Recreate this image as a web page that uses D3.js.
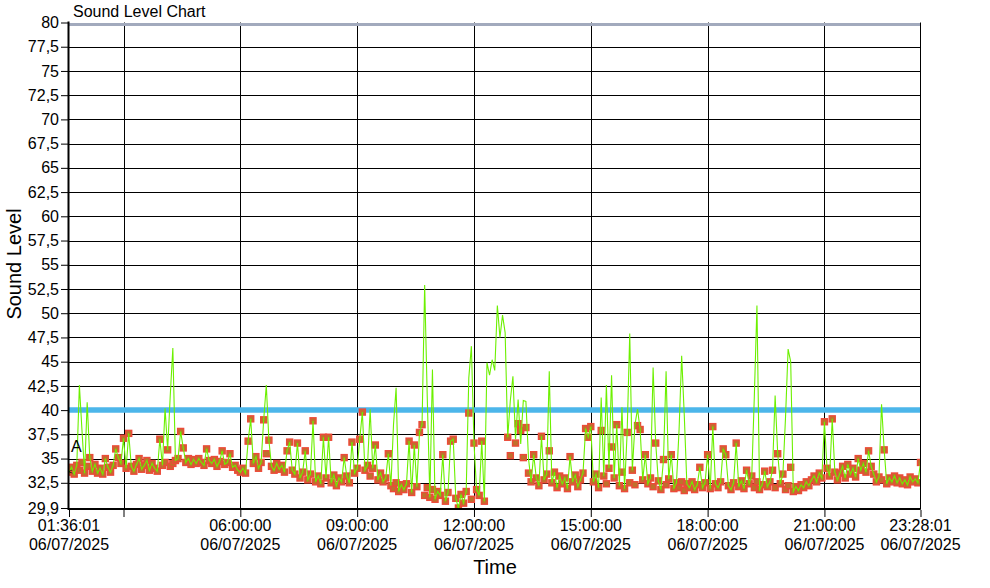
<!DOCTYPE html>
<html><head><meta charset="utf-8">
<script src="https://cdn.jsdelivr.net/npm/d3@7"></script>
<style>
body{margin:0;background:#fff;}
svg text{font-family:"Liberation Sans",Arial,sans-serif;fill:#000;}
</style></head><body>
<svg id="chart" width="990" height="588"></svg>
<script>
const chartTitle = "Sound Level Chart";
const yAxisTitle = "Sound Level";
const xAxisTitle = "Time";
const startTime = "2025-07-06 01:36:01";
const endTime = "2025-07-06 23:28:01";
const stepMinutes = 4;
const seriesLabel = "A";
const thresholdValue = 40;
const topLineValue = 80;

const redValues = [
33.6,34.1,33.4,34.3,33.8,34.6,33.5,34.2,35.1,33.7,
34.4,33.5,34.0,33.4,35.0,34.1,33.6,34.3,36.0,35.1,
34.5,37.1,34.0,37.6,34.2,33.7,34.4,35.0,33.9,34.3,
34.8,33.8,34.5,34.0,33.7,37.0,34.3,34.6,35.9,34.2,
34.5,34.8,35.0,37.8,36.1,34.6,35.0,34.4,34.9,34.5,
35.0,34.6,34.3,36.0,34.8,34.5,34.9,34.2,34.7,35.8,
34.4,34.6,35.5,34.1,34.3,33.8,33.6,34.0,33.5,36.8,
39.1,34.5,35.2,34.0,34.6,39.0,35.5,36.9,34.2,33.8,
34.5,33.9,34.3,33.6,35.8,36.7,33.8,33.4,36.6,33.0,
33.6,35.8,32.8,33.4,38.9,32.6,33.2,32.4,37.2,33.0,
37.2,32.5,33.3,32.2,33.0,32.6,35.1,33.2,32.5,36.7,
33.5,34.0,37.0,39.8,33.8,34.3,33.2,34.0,36.4,32.8,
33.5,32.6,33.0,35.5,32.2,31.9,32.5,31.6,32.3,31.8,
32.4,36.8,31.5,36.4,32.1,37.7,38.5,31.2,32.0,31.0,
31.8,30.8,31.6,31.2,35.4,30.6,31.5,36.8,37.0,30.9,
29.9,31.3,30.4,31.6,39.7,30.8,36.6,31.8,31.2,36.8,
30.6,null,null,null,null,null,null,null,null,37.2,
35.3,null,36.6,38.6,37.9,35.1,38.2,33.5,32.6,35.4,
33.0,32.2,37.3,32.8,33.4,35.8,32.5,33.6,32.0,33.2,
32.4,33.0,31.9,35.2,32.6,33.3,32.1,32.8,33.5,38.1,
37.2,38.3,32.6,33.4,32.0,37.9,33.2,32.4,34.0,36.2,
33.0,38.5,32.2,33.6,31.9,37.7,32.5,33.8,32.3,38.4,
38.0,32.8,35.4,32.4,33.0,32.1,36.6,32.7,31.8,34.9,
32.3,32.9,35.4,31.9,32.5,32.0,32.6,31.7,32.4,32.0,
32.6,31.8,32.3,34.1,32.0,32.5,35.4,31.9,38.3,32.4,
32.0,32.6,36.0,35.4,32.2,31.8,32.5,36.6,32.1,32.7,
31.9,33.8,32.4,33.2,32.0,32.6,31.8,32.3,33.7,32.1,
32.6,33.8,32.0,35.5,32.4,33.4,31.8,32.2,34.1,31.6,
32.1,31.7,32.3,32.0,32.6,32.2,32.8,33.2,32.6,33.5,
33.0,38.8,34.0,33.2,39.1,33.6,32.8,33.5,34.2,33.0,
34.4,33.4,34.0,33.1,35.0,33.8,34.5,33.6,35.8,34.2,
33.4,32.6,33.1,32.8,35.9,32.4,33.0,32.6,33.2,32.5,
33.0,32.4,32.8,32.3,33.1,32.6,32.9,32.5,34.6
];

const greenValues = [
33.6,34.1,33.4,34.3,42.6,37.9,33.5,40.8,35.1,33.7,
34.4,33.5,34.0,33.4,35.0,34.1,33.6,34.3,36.0,35.1,
34.5,37.1,34.0,37.6,34.2,33.7,34.4,35.0,33.9,34.3,
34.8,33.8,34.5,34.0,33.7,37.0,34.3,40.2,35.9,41.5,
46.4,34.8,35.0,37.8,36.1,34.6,35.0,34.4,34.9,34.5,
35.0,34.6,34.3,36.0,34.8,34.5,34.9,34.2,34.7,35.8,
34.4,34.6,35.5,34.1,34.3,33.8,33.6,34.0,33.5,36.8,
39.1,34.5,35.2,34.0,34.6,39.0,42.6,36.9,34.2,33.8,
34.5,33.9,34.3,33.6,35.8,36.7,33.8,33.4,36.6,33.0,
33.6,35.8,32.8,33.4,38.9,32.6,33.2,32.4,37.2,33.0,
37.2,32.5,33.3,32.2,33.0,32.6,35.1,33.2,32.5,36.7,
33.5,34.0,37.0,39.8,33.8,34.3,40.1,34.0,36.4,32.8,
33.5,32.6,33.0,35.5,32.2,38.5,42.3,31.6,32.3,31.8,
32.4,36.8,31.5,36.4,32.1,37.7,38.5,52.9,41.3,31.0,
44.2,30.8,31.6,31.2,35.4,30.6,31.5,36.8,37.0,30.9,
29.9,31.3,30.4,31.6,43.3,46.6,36.6,31.8,31.2,36.8,
30.6,44.9,43.6,45.2,44.1,50.8,47.5,49.8,48.0,37.2,
41.0,43.5,37.0,41.1,36.5,41.0,40.9,35.0,32.6,35.4,
33.0,32.2,37.3,32.8,33.4,44.0,32.5,33.6,32.0,33.2,
32.4,33.0,31.9,35.2,32.6,33.3,32.1,32.8,33.5,38.1,
37.2,38.3,32.6,33.4,32.0,41.3,33.2,42.6,34.0,43.6,
33.0,38.5,32.2,40.3,31.9,37.7,47.9,33.8,38.5,40.1,
38.0,32.8,35.4,32.4,33.0,44.4,36.6,32.7,31.8,34.9,
44.0,32.9,35.4,31.9,32.5,38.0,45.6,39.5,32.4,32.0,
32.6,31.8,32.3,34.1,32.0,32.5,35.4,31.9,38.3,32.4,
32.0,32.6,36.0,35.4,32.2,31.8,32.5,36.6,32.1,32.7,
31.9,33.8,32.4,33.2,41.5,50.8,31.8,32.3,33.7,32.1,
32.6,33.8,41.5,35.5,32.4,33.4,39.2,46.3,45.0,31.6,
32.1,31.7,32.3,32.0,32.6,32.2,32.8,33.2,32.6,33.5,
33.0,38.8,34.0,33.2,39.1,33.6,32.8,33.5,34.2,33.0,
34.4,33.4,34.0,33.1,35.0,33.8,34.5,33.6,35.8,34.2,
33.4,32.6,33.1,40.6,35.9,32.4,33.0,32.6,33.2,32.5,
33.0,32.4,32.8,32.3,33.1,32.6,32.9,32.5,34.6
];

const yTickValues = [29.9,32.5,35,37.5,40,42.5,45,47.5,50,52.5,55,57.5,60,62.5,65,67.5,70,72.5,75,77.5,80];
const yTickLabels = ["29,9","32,5","35","37,5","40","42,5","45","47,5","50","52,5","55","57,5","60","62,5","65","67,5","70","72,5","75","77,5","80"];
const xTickTimes = ["01:36:01","03:00:00","06:00:00","09:00:00","12:00:00","15:00:00","18:00:00","21:00:00","23:28:01"];
const xTickLabelShown = [true,false,true,true,true,true,true,true,true];
const xTickDate = "06/07/2025";
const xGridTimes = ["03:00:00","06:00:00","09:00:00","12:00:00","15:00:00","18:00:00","21:00:00"];

const parse = d3.timeParse("%Y-%m-%d %H:%M:%S");
const day = "2025-07-06 ";
const t0 = parse(startTime), t1 = parse(endTime);

const L = 69, R = 920.5, T = 22.5, B = 508;
const x = d3.scaleTime().domain([t0, t1]).range([L, R]);
const y = d3.scaleLinear().domain([29.9, 80]).range([B, T]);

const svg = d3.select("#chart");
svg.append("rect").attr("width",990).attr("height",588).attr("fill","#fff");

const timeAt = i => d3.timeMinute.offset(t0, i*stepMinutes);
const redPts = redValues.map((v,i)=>({t:timeAt(i), v})).filter(d=>d.v!=null);
const greenPts = greenValues.map((v,i)=>({t:timeAt(i), v}));

svg.append("defs").append("clipPath").attr("id","clip")
  .append("rect").attr("x",L).attr("y",T).attr("width",R-L).attr("height",B-T);

// horizontal grid
const grid = svg.append("g");
yTickValues.forEach(v=>{
  const yy = Math.round(y(v))+0.5;
  grid.append("line").attr("x1",L).attr("x2",R).attr("y1",yy).attr("y2",yy)
    .attr("stroke","#000").attr("stroke-width",1);
});
xGridTimes.forEach(s=>{
  const xx = Math.round(x(parse(day+s)))+0.5;
  grid.append("line").attr("x1",xx).attr("x2",xx).attr("y1",T).attr("y2",B)
    .attr("stroke","#000").attr("stroke-width",1);
});
// top grey line
svg.append("line").attr("x1",L).attr("x2",R).attr("y1",y(topLineValue)+2).attr("y2",y(topLineValue)+2)
  .attr("stroke","#a2aabd").attr("stroke-width",3);
// threshold
svg.append("line").attr("x1",L).attr("x2",R).attr("y1",y(thresholdValue)).attr("y2",y(thresholdValue))
  .attr("stroke","#4cb6ea").attr("stroke-width",5.5);

const data = svg.append("g").attr("clip-path","url(#clip)");
data.selectAll("rect.m").data(redPts).enter().append("rect")
  .attr("x",d=>x(d.t)-3).attr("y",d=>y(d.v)-3).attr("width",6).attr("height",6)
  .attr("fill","#c0702c").attr("stroke","#ec4a3a").attr("stroke-width",1.4);
const line = d3.line().defined(d=>d.v!=null).x(d=>x(d.t)).y(d=>y(d.v));
data.append("path").datum(greenPts).attr("d",line).attr("fill","none")
  .attr("stroke","#6cf000").attr("stroke-width",1.1);

// right border
svg.append("line").attr("x1",R).attr("x2",R).attr("y1",T).attr("y2",B+1.5).attr("stroke","#000");
// bottom double line
svg.append("line").attr("x1",L).attr("x2",R).attr("y1",B+1.5).attr("y2",B+1.5).attr("stroke","#000");

// y axis
const yAxis = d3.axisLeft(y).tickValues(yTickValues).tickFormat((d,i)=>yTickLabels[i]).tickSize(7).tickPadding(2);
const gy = svg.append("g").attr("transform",`translate(${L-1},0)`).call(yAxis);
gy.select(".domain").remove();
gy.selectAll(".tick line").attr("stroke","#000");
gy.selectAll(".tick text").attr("font-size",16).attr("font-family","Liberation Sans, Arial, sans-serif").attr("fill","#000");
svg.append("line").attr("x1",L-0.5).attr("x2",L-0.5).attr("y1",T-1).attr("y2",B+2).attr("stroke","#000").attr("stroke-width",2);

// x axis
const xTicks = xTickTimes.map(s=>parse(day+s));
const xAxis = d3.axisBottom(x).tickValues(xTicks).tickFormat("").tickSize(7);
const gx = svg.append("g").attr("transform",`translate(0,${B+2})`).call(xAxis);
gx.select(".domain").remove();
gx.selectAll(".tick line").attr("stroke","#000");
const xl = svg.append("g");
xTicks.forEach((t,i)=>{
  if(!xTickLabelShown[i]) return;
  const tx = xl.append("text").attr("x",x(t)).attr("y",531).attr("text-anchor","middle").attr("font-size",16);
  tx.append("tspan").attr("x",x(t)).text(xTickTimes[i]);
  tx.append("tspan").attr("x",x(t)).attr("dy",19).text(xTickDate);
});

// titles
svg.append("text").attr("x",73).attr("y",17).attr("font-size",16).text(chartTitle);
svg.append("text").attr("transform","translate(21,264) rotate(-90)").attr("text-anchor","middle").attr("font-size",20).text(yAxisTitle);
svg.append("text").attr("x",495).attr("y",574).attr("text-anchor","middle").attr("font-size",20).text(xAxisTitle);
svg.append("text").attr("x",71).attr("y",452).attr("font-size",16).text(seriesLabel);
svg.append("text").attr("x",68).attr("y",474).attr("font-size",8).text("<");
</script>
</body></html>
